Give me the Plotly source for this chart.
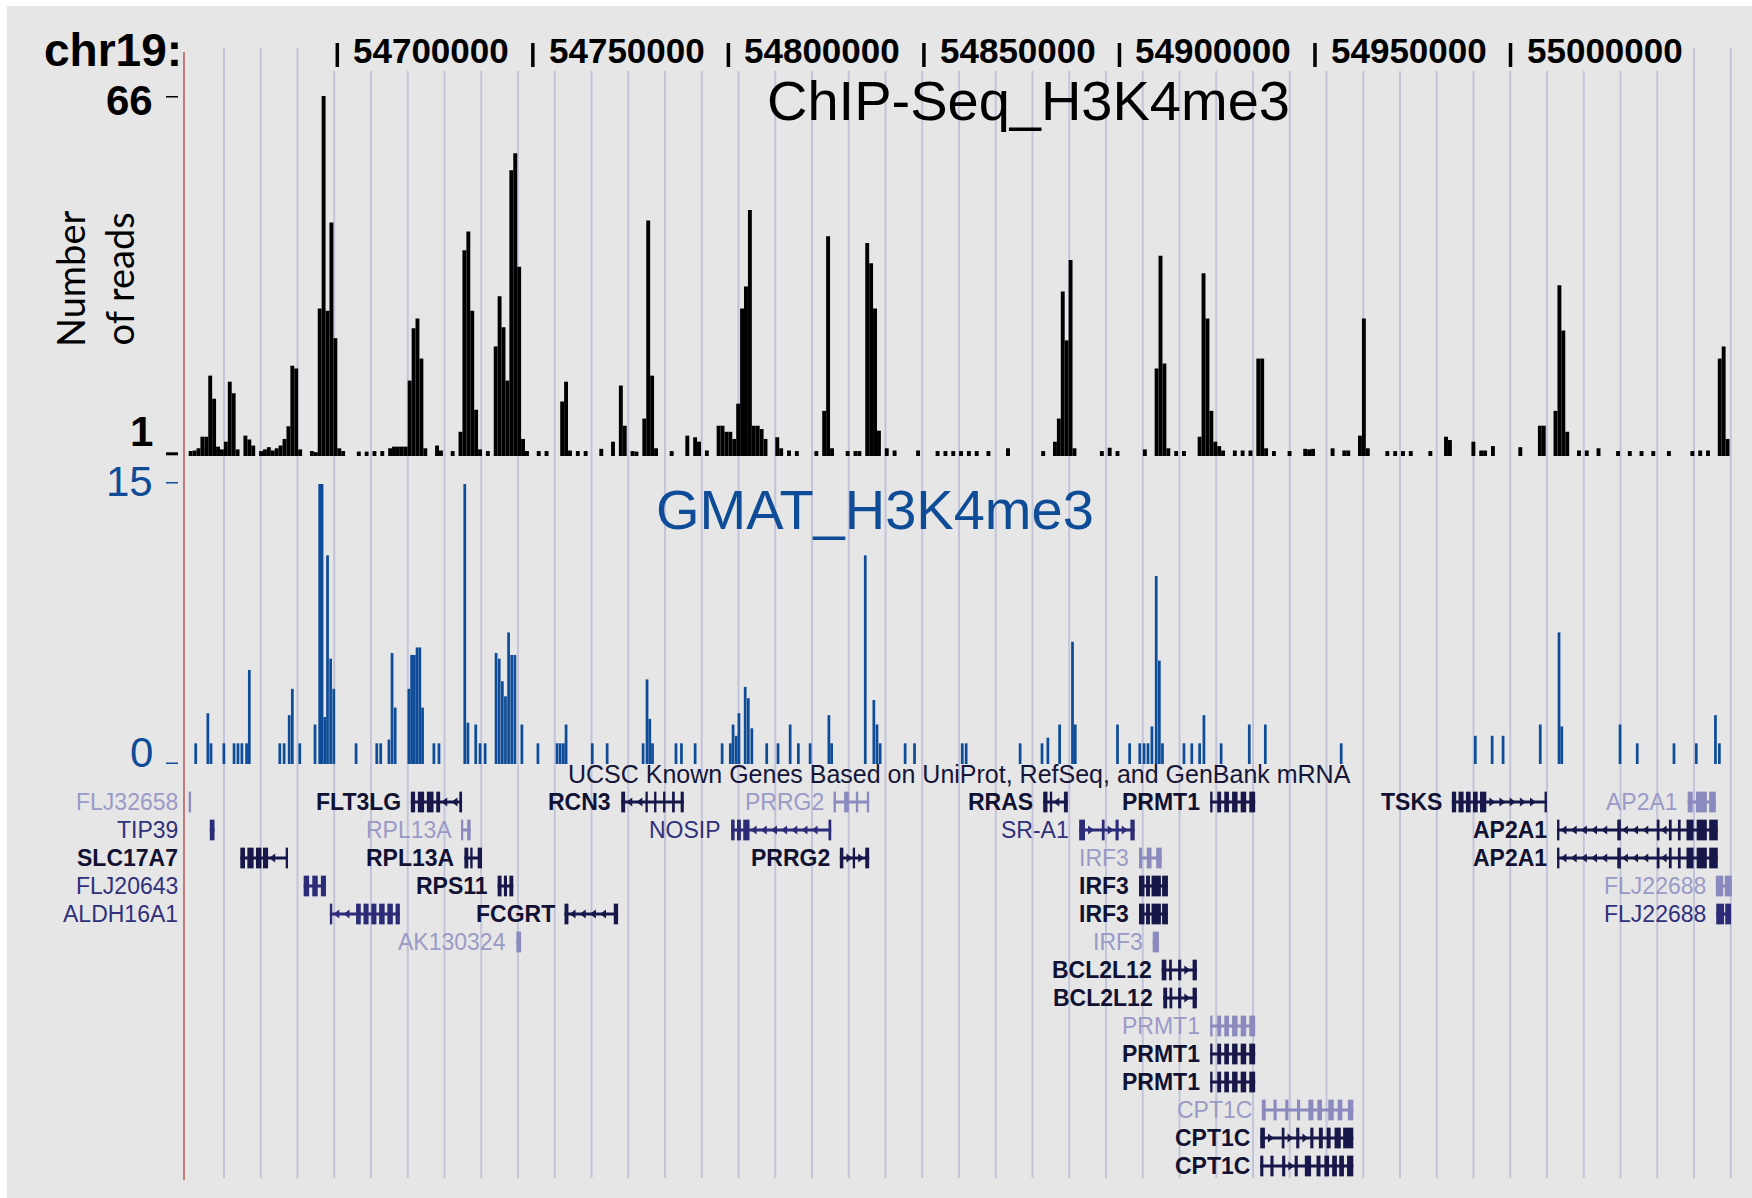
import plotly.graph_objects as go

W, H = 1752, 1198

# ---------------------------------------------------------------- data
# chr19 window, kb
view_start, view_end = 54660.8, 55057.4
ruler_kb = [54700, 54750, 54800, 54850, 54900, 54950, 55000]

# ChIP-Seq H3K4me3 read counts in 1 kb bins (bin start, kb)
chip_bin_kb = [
    54662, 54663, 54664, 54665, 54666, 54667, 54668, 54669, 54670, 54671,
    54672, 54673, 54674, 54676, 54677, 54678, 54680, 54681, 54682, 54683,
    54684, 54685, 54686, 54687, 54688, 54689, 54690, 54693, 54694, 54695,
    54696, 54697, 54698, 54699, 54700, 54701, 54705, 54707, 54709, 54711,
    54713, 54714, 54715, 54716, 54717, 54718, 54719, 54720, 54721, 54722,
    54725, 54726, 54729, 54731, 54732, 54733, 54734, 54735, 54736, 54738,
    54740, 54741, 54742, 54743, 54744, 54745, 54746, 54747, 54748, 54751,
    54753, 54757, 54758, 54759, 54761, 54763, 54767, 54770, 54772, 54773,
    54775, 54776, 54778, 54779, 54780, 54781, 54785, 54789, 54791, 54792,
    54794, 54797, 54798, 54799, 54800, 54801, 54802, 54803, 54804, 54805,
    54806, 54807, 54808, 54809, 54812, 54813, 54815, 54817, 54822, 54824,
    54825, 54826, 54830, 54832, 54833, 54835, 54836, 54837, 54838, 54840,
    54842, 54848, 54853, 54855, 54857, 54859, 54861, 54863, 54866, 54871,
    54880, 54883, 54884, 54885, 54886, 54887, 54888, 54895, 54897, 54899,
    54906, 54909, 54910, 54911, 54912, 54914, 54916, 54920, 54921, 54922,
    54923, 54924, 54925, 54926, 54929, 54931, 54933, 54935, 54936, 54937,
    54939, 54943, 54947, 54948, 54949, 54954, 54957, 54958, 54961, 54962,
    54963, 54968, 54970, 54972, 54974, 54979, 54983, 54984, 54990, 54992,
    54993, 54995, 55002, 55007, 55008, 55011, 55012, 55013, 55014, 55017,
    55019, 55022, 55027, 55030, 55033, 55036, 55040, 55046, 55048, 55050,
    55053, 55054, 55055,
]
chip_reads = [
    1.5, 1.6, 2.0, 4.1, 4.1, 15.2, 11.0, 2.3, 1.8, 3.2,
    14.1, 12.0, 1.8, 4.3, 3.6, 2.5, 1.5, 1.8, 2.2, 1.6,
    2.0, 2.5, 3.7, 6.0, 17.0, 16.5, 1.8, 1.5, 1.3, 27.4,
    66.0, 27.0, 43.0, 22.0, 2.0, 1.5, 1.4, 1.4, 1.5, 1.5,
    2.0, 2.3, 2.3, 2.3, 2.3, 14.3, 23.8, 25.6, 18.3, 2.0,
    2.5, 1.6, 1.5, 5.0, 38.0, 41.4, 27.0, 9.0, 1.8, 1.5,
    20.5, 29.6, 24.0, 14.3, 52.5, 55.6, 35.0, 3.7, 1.5, 1.5,
    1.5, 10.5, 14.1, 1.6, 1.5, 1.5, 1.9, 3.2, 13.4, 6.1,
    1.5, 1.4, 7.4, 43.4, 15.2, 2.0, 1.5, 4.3, 4.0, 3.2,
    1.6, 6.1, 6.1, 5.0, 5.0, 3.7, 10.1, 27.4, 31.4, 45.3,
    6.1, 6.1, 5.5, 3.7, 4.0, 2.0, 1.6, 1.5, 1.5, 8.8,
    40.5, 2.0, 1.5, 1.5, 1.5, 39.3, 35.6, 27.4, 5.2, 2.0,
    1.6, 1.6, 1.5, 1.5, 1.5, 1.5, 1.5, 1.5, 1.5, 2.0,
    1.5, 3.2, 7.4, 30.5, 21.6, 36.2, 2.0, 1.5, 2.1, 1.5,
    1.8, 16.5, 37.0, 17.4, 2.0, 1.5, 1.5, 4.1, 33.8, 25.6,
    8.8, 3.2, 2.4, 1.6, 1.6, 1.6, 1.6, 18.3, 18.3, 2.0,
    1.5, 1.5, 1.9, 1.8, 1.9, 2.0, 1.6, 1.6, 4.3, 25.6,
    2.0, 1.5, 1.5, 1.5, 1.5, 1.5, 4.1, 3.5, 3.2, 1.6,
    1.6, 2.4, 2.2, 6.1, 6.1, 8.8, 31.6, 23.4, 5.0, 1.6,
    1.6, 2.0, 1.5, 1.5, 1.5, 1.5, 1.5, 1.5, 1.6, 1.6,
    18.3, 20.5, 3.7,
]

# GMAT H3K4me3 scores (position kb, score)
gmat_kb = [
    54663.8, 54666.9, 54667.7, 54671.0, 54673.6, 54674.6, 54675.6, 54676.8, 54677.5, 54685.3,
    54686.4, 54687.7, 54688.5, 54690.4, 54694.3, 54695.5, 54696.1, 54696.8, 54697.5, 54698.3,
    54699.1, 54704.8, 54710.1, 54711.1, 54713.2, 54714.0, 54714.8, 54718.3, 54719.0, 54719.7,
    54720.4, 54721.1, 54721.8, 54724.7, 54726.0, 54732.6, 54733.4, 54735.4, 54736.5, 54737.8,
    54740.6, 54741.4, 54742.2, 54743.0, 54743.8, 54744.6, 54745.4, 54747.2, 54751.3, 54756.2,
    54757.0, 54757.8, 54758.5, 54765.2, 54769.0, 54778.2, 54779.2, 54779.9, 54780.6, 54786.6,
    54788.0, 54791.5, 54798.4, 54800.5, 54801.2, 54802.0, 54802.7, 54804.3, 54805.1, 54806.0,
    54809.8, 54812.7, 54815.8, 54817.9, 54820.9, 54825.7, 54826.4, 54835.0, 54837.2, 54838.0,
    54838.8, 54845.2, 54847.6, 54859.8, 54860.8, 54874.6, 54880.2, 54881.7, 54884.7, 54888.0,
    54888.7, 54899.5, 54902.6, 54905.2, 54906.3, 54907.3, 54908.3, 54909.4, 54910.2, 54911.0,
    54916.5, 54918.5, 54920.5, 54921.6, 54926.0, 54933.2, 54937.3, 54956.7, 54991.0, 54995.3,
    54998.1, 55007.6, 55012.4, 55013.1, 55028.0, 55032.4, 55041.8, 55047.5, 55052.4, 55053.4,
]
gmat_score = [
    1.1, 2.7, 1.1, 1.1, 1.1, 1.1, 1.1, 1.1, 5.0, 1.1,
    1.1, 2.6, 4.0, 1.1, 2.1, 14.9, 14.9, 2.5, 11.1, 5.6,
    4.0, 1.1, 1.1, 1.1, 1.3, 5.9, 3.0, 4.0, 5.8, 5.8,
    6.2, 6.2, 3.0, 1.1, 1.1, 14.9, 2.2, 2.1, 1.1, 1.1,
    5.9, 5.6, 4.4, 3.6, 7.0, 5.8, 5.8, 2.1, 1.1, 1.1,
    1.1, 1.1, 2.1, 1.1, 1.1, 1.1, 4.5, 2.4, 1.1, 1.1,
    1.1, 1.1, 1.1, 1.1, 2.1, 1.5, 2.7, 4.1, 3.5, 1.9,
    1.1, 1.1, 2.1, 1.1, 1.1, 2.6, 1.1, 11.1, 3.4, 2.1,
    1.1, 1.1, 1.1, 1.1, 1.1, 1.1, 1.1, 1.4, 2.1, 6.5,
    2.1, 2.1, 1.1, 1.1, 1.1, 1.1, 2.0, 10.0, 5.5, 1.1,
    1.1, 1.1, 1.1, 2.6, 1.1, 2.1, 2.1, 1.1, 1.5, 1.5,
    1.5, 2.1, 7.0, 2.0, 2.1, 1.1, 1.1, 1.1, 2.6, 1.1,
]

# UCSC Known Genes: name, display row, strand, shade, exons (kb)
gene_name = [
    "FLJ32658", "FLT3LG", "RCN3", "PRRG2", "RRAS", "PRMT1", "TSKS", "AP2A1",
    "TIP39", "RPL13A", "NOSIP", "SR-A1", "AP2A1",
    "SLC17A7", "RPL13A", "PRRG2", "IRF3", "AP2A1",
    "FLJ20643", "RPS11", "IRF3", "FLJ22688",
    "ALDH16A1", "FCGRT", "IRF3", "FLJ22688",
    "AK130324", "IRF3",
    "BCL2L12", "BCL2L12", "PRMT1", "PRMT1", "PRMT1",
    "CPT1C", "CPT1C", "CPT1C",
]
gene_row = [
    0, 0, 0, 0, 0, 0, 0, 0,
    1, 1, 1, 1, 1,
    2, 2, 2, 2, 2,
    3, 3, 3, 3,
    4, 4, 4, 4,
    5, 5,
    6, 7, 8, 9, 10,
    11, 12, 13,
]
gene_strand = [
    "+", "-", "-", "+", "-", "+", "+", "-",
    "+", "-", "-", "+", "-",
    "-", "-", "+", "-", "-",
    "+", "+", "-", "-",
    "-", "-", "-", "-",
    "+", "-",
    "+", "+", "+", "+", "+",
    "+", "+", "+",
]
gene_shade = [
    "light", "dark", "dark", "light", "dark", "dark", "dark", "light",
    "mid", "light", "mid", "mid", "dark",
    "dark", "dark", "dark", "light", "dark",
    "mid", "dark", "dark", "light",
    "mid", "dark", "dark", "mid",
    "light", "light",
    "dark", "dark", "light", "dark", "dark",
    "light", "dark", "dark",
]
ap2a1_exons = [[55011.9, 55012.5], [55027.3, 55028.2], [55037.4, 55038.1], [55040.5, 55041.2],
               [55042.8, 55043.5], [55045.0, 55046.8], [55047.6, 55050.2], [55050.8, 55053.0]]
irf3_exons = [[54905.0, 54906.4], [54906.8, 54907.8], [54908.2, 54910.6], [54910.9, 54912.4]]
prmt1_exons = [[54923.2, 54923.8], [54925.0, 54926.0], [54926.8, 54928.0], [54928.8, 54930.2],
               [54931.0, 54932.4], [54933.2, 54934.7]]
gene_exons = [
    [[54662.0, 54662.6]],
    [[54718.8, 54719.9], [54720.6, 54722.2], [54722.9, 54724.6], [54725.3, 54726.3], [54731.2, 54731.9]],
    [[54772.6, 54773.6], [54778.8, 54779.4], [54781.0, 54781.6], [54783.3, 54783.9], [54785.6, 54786.3],
     [54787.8, 54788.6]],
    [[54826.9, 54827.5], [54829.6, 54830.8], [54832.6, 54833.2], [54835.4, 54836.0]],
    [[54880.5, 54881.6], [54882.2, 54882.8], [54885.8, 54886.8]],
    prmt1_exons,
    [[54985.0, 54986.1], [54986.7, 54988.0], [54988.6, 54989.8], [54990.4, 54991.6], [54992.2, 54993.8],
     [55008.7, 55009.3]],
    [[55045.3, 55046.6], [55047.4, 55050.2], [55050.8, 55052.5]],
    [[54667.4, 54668.6]],
    [[54731.8, 54732.2], [54733.2, 54734.1]],
    [[54800.7, 54801.6], [54802.2, 54803.2], [54803.8, 54805.4], [54825.6, 54826.3]],
    [[54889.7, 54891.2], [54895.5, 54896.2], [54899.0, 54899.8], [54902.8, 54903.9]],
    ap2a1_exons,
    [[54675.2, 54676.4], [54677.0, 54678.6], [54679.2, 54680.6], [54681.0, 54682.3], [54686.8, 54687.4]],
    [[54732.5, 54733.5], [54734.0, 54734.6], [54735.9, 54737.0]],
    [[54828.5, 54829.4], [54831.8, 54832.4], [54835.0, 54836.0]],
    [[54905.0, 54905.8], [54907.0, 54908.2], [54909.4, 54910.8]],
    ap2a1_exons,
    [[54691.4, 54692.8], [54693.6, 54695.0], [54695.8, 54697.1]],
    [[54741.0, 54742.0], [54742.6, 54743.4], [54744.0, 54745.0]],
    irf3_exons,
    [[55052.5, 55054.4], [55054.8, 55056.6]],
    [[54698.1, 54698.7], [54704.8, 54706.0], [54706.7, 54708.0], [54708.7, 54710.0], [54710.7, 54712.1],
     [54712.8, 54714.2], [54714.9, 54716.0]],
    [[54758.1, 54759.1], [54770.7, 54771.8]],
    irf3_exons,
    [[55052.6, 55054.6], [55054.9, 55056.4]],
    [[54745.8, 54747.0]],
    [[54908.5, 54910.1]],
    [[54910.8, 54912.0], [54912.7, 54913.4], [54915.0, 54915.8], [54918.7, 54919.8]],
    [[54911.2, 54912.2], [54912.8, 54913.5], [54915.0, 54915.8], [54918.7, 54919.8]],
    prmt1_exons,
    prmt1_exons,
    prmt1_exons,
    [[54936.4, 54937.4], [54939.4, 54940.2], [54942.4, 54943.2], [54945.4, 54946.2], [54948.3, 54949.6],
     [54950.6, 54951.8], [54953.4, 54954.8], [54955.8, 54957.0], [54958.4, 54959.8]],
    [[54936.0, 54937.2], [54941.5, 54942.2], [54945.2, 54946.0], [54948.8, 54949.6], [54951.0, 54952.0],
     [54953.0, 54954.0], [54955.0, 54956.6], [54957.2, 54959.8]],
    [[54936.0, 54936.8], [54938.6, 54939.4], [54941.6, 54942.4], [54944.8, 54945.6], [54947.4, 54949.0],
     [54950.4, 54951.4], [54952.4, 54953.6], [54954.4, 54955.6], [54956.2, 54957.4], [54958.2, 54959.8]],
]

# ---------------------------------------------------------------- styling
FONT = "Liberation Sans, Arial, Helvetica, sans-serif"
BG = "#e6e6e6"
GUIDE = "#c3c3da"
BLUE = "#0e4c98"
label_color = {"dark": "#111133", "mid": "#30307c", "light": "#9a9ac6"}
label_weight = {"dark": "bold", "mid": "normal", "light": "normal"}
glyph_color = {"dark": "#17174a", "mid": "#2b2b78", "light": "#8a8abf"}

# page geometry (pixels)
DATA_L, DATA_R = 184, 1735
CHIP_TOP, CHIP_BOT = 96, 456
GMAT_TOP, GMAT_BOT = 482, 764
GENE_TOP, GENE_BOT = 760, 1190
ROW0_Y, ROW_H = 802, 28


def fx(px):
    return px / W


def fy(py):
    return 1 - py / H


fig = go.Figure()

# ChIP-Seq read-count histogram
fig.add_trace(go.Bar(
    x=[b + 0.5 for b in chip_bin_kb], y=chip_reads, width=1.0,
    marker=dict(color="black", line=dict(width=0)),
    xaxis="x", yaxis="y", hoverinfo="skip",
))

# GMAT score bars
fig.add_trace(go.Bar(
    x=gmat_kb, y=gmat_score, width=0.7,
    marker=dict(color=BLUE, line=dict(width=0)),
    xaxis="x", yaxis="y2", hoverinfo="skip",
))

# gene models: introns, strand chevrons, exons
for shade in ["light", "mid", "dark"]:
    lx, ly, ax_, ay_, asym = [], [], [], [], []
    for row, strand, sh, exons in zip(gene_row, gene_strand, gene_shade, gene_exons):
        if sh != shade:
            continue
        start, end = exons[0][0], exons[-1][1]
        if end - start > 1.0:
            lx += [start, end, None]
            ly += [row, row, None]
        for (s0, e0), (s1, e1) in zip(exons[:-1], exons[1:]):
            p = e0 + 1.3
            while p < s1 - 0.9:
                ax_.append(p)
                ay_.append(row)
                asym.append("triangle-left" if strand == "-" else "triangle-right")
                p += 2.6
    fig.add_trace(go.Scatter(
        x=lx, y=ly, mode="lines", line=dict(color=glyph_color[shade], width=3),
        xaxis="x", yaxis="y3", hoverinfo="skip",
    ))
    if ax_:
        fig.add_trace(go.Scatter(
            x=ax_, y=ay_, mode="markers",
            marker=dict(symbol=asym, size=8, color=glyph_color[shade], line=dict(width=0)),
            xaxis="x", yaxis="y3", hoverinfo="skip",
        ))

ex_x, ex_w, ex_base, ex_col = [], [], [], []
for row, sh, exons in zip(gene_row, gene_shade, gene_exons):
    for s, e in exons:
        ex_x.append((s + e) / 2)
        ex_w.append(e - s)
        ex_base.append(row - 0.37)
        ex_col.append(glyph_color[sh])
fig.add_trace(go.Bar(
    x=ex_x, y=[0.74] * len(ex_x), base=ex_base, width=ex_w,
    marker=dict(color=ex_col, line=dict(width=0)),
    xaxis="x", yaxis="y3", hoverinfo="skip",
))

# ---------------------------------------------------------------- shapes
shapes = [
    dict(type="rect", xref="paper", yref="paper", x0=fx(7), x1=1, y0=0, y1=fy(6),
         fillcolor=BG, line=dict(width=0), layer="below"),
]
# browser guidelines every 36.75 px
for k in range(42):
    gx = fx(224 + 36.75 * k)
    shapes.append(dict(type="line", xref="paper", yref="paper", x0=gx, x1=gx,
                       y0=fy(48), y1=fy(1178), line=dict(color=GUIDE, width=2), layer="below"))
# ruler label band hides the guidelines
shapes.append(dict(type="rect", xref="paper", yref="paper", x0=fx(332), x1=fx(1688),
                   y0=fy(71), y1=fy(40), fillcolor=BG, line=dict(width=0), layer="below"))
# left border of the data area
shapes.append(dict(type="line", xref="paper", yref="paper", x0=fx(DATA_L), x1=fx(DATA_L),
                   y0=fy(52), y1=fy(1180), line=dict(color="#c07a7a", width=2), layer="below"))
# ruler ticks
for kb in ruler_kb:
    shapes.append(dict(type="line", xref="x", yref="paper", x0=kb, x1=kb,
                       y0=fy(67), y1=fy(43), line=dict(color="black", width=3.5)))
# vertical-scale dashes
for yref, val, col in [("y", 66, "black"), ("y", 1, "black"), ("y2", 15, BLUE), ("y2", 0, BLUE)]:
    shapes.append(dict(type="line", xref="paper", yref=yref, x0=fx(166), x1=fx(178),
                       y0=val, y1=val, line=dict(color=col, width=3)))

# ---------------------------------------------------------------- annotations
ann = []
ann.append(dict(text="<b>chr19:</b>", xref="paper", yref="paper", x=fx(184), y=fy(50),
                xanchor="right", yanchor="middle", showarrow=False,
                font=dict(family=FONT, size=46, color="black")))
for kb in ruler_kb:
    ann.append(dict(text="<b>%d</b>" % (kb * 1000), xref="x", yref="paper", x=kb, y=fy(50),
                    xanchor="left", yanchor="middle", xshift=14, showarrow=False,
                    font=dict(family=FONT, size=35, color="black")))
for txt, py, col in [("<b>66</b>", 100, "black"), ("<b>1</b>", 431, "black"),
                     ("15", 482, BLUE), ("0", 752, BLUE)]:
    ann.append(dict(text=txt, xref="paper", yref="paper", x=fx(155), y=fy(py),
                    xanchor="right", yanchor="middle", showarrow=False,
                    font=dict(family=FONT, size=42, color=col)))
ann.append(dict(text="ChIP-Seq_H3K4me3", xref="paper", yref="paper", x=fx(1028), y=fy(100),
                xanchor="center", yanchor="middle", showarrow=False,
                font=dict(family=FONT, size=56, color="black")))
ann.append(dict(text="GMAT_H3K4me3", xref="paper", yref="paper", x=fx(875), y=fy(509),
                xanchor="center", yanchor="middle", showarrow=False,
                font=dict(family=FONT, size=56, color=BLUE)))
ann.append(dict(text="Number<br>of reads", xref="paper", yref="paper", x=fx(95), y=fy(279),
                xanchor="center", yanchor="middle", textangle=-90, showarrow=False,
                font=dict(family="Lato, Open Sans, sans-serif", size=38, color="black")))
ann.append(dict(text="UCSC Known Genes Based on UniProt, RefSeq, and GenBank mRNA",
                xref="paper", yref="y3", x=fx((DATA_L + DATA_R) / 2), y=-1.0,
                xanchor="center", yanchor="middle", showarrow=False,
                font=dict(family=FONT, size=25, color="#15153a")))
for name, row, sh, exons in zip(gene_name, gene_row, gene_shade, gene_exons):
    start = exons[0][0]
    font = dict(family=FONT, size=23, color=label_color[sh], weight=label_weight[sh])
    if start - view_start < 40:
        ann.append(dict(text=name, xref="paper", yref="y3", x=fx(DATA_L - 4), y=row,
                        xanchor="right", yanchor="middle", showarrow=False, font=font))
    else:
        ann.append(dict(text=name, xref="x", yref="y3", x=start, y=row, xshift=-8,
                        xanchor="right", yanchor="middle", showarrow=False, font=font))

hidden = dict(visible=False, showgrid=False, zeroline=False, fixedrange=True)
fig.update_layout(
    width=W, height=H, autosize=False,
    margin=dict(l=0, r=0, t=0, b=0),
    paper_bgcolor="white", plot_bgcolor="rgba(0,0,0,0)",
    showlegend=False, barmode="overlay",
    xaxis=dict(domain=[fx(DATA_L), fx(DATA_R)], range=[view_start, view_end], **hidden),
    yaxis=dict(domain=[fy(CHIP_BOT), fy(CHIP_TOP)], range=[0.6, 66], anchor="x", **hidden),
    yaxis2=dict(domain=[fy(GMAT_BOT), fy(GMAT_TOP)], range=[0, 15], anchor="x", **hidden),
    yaxis3=dict(domain=[fy(GENE_BOT), fy(GENE_TOP)],
                range=[(GENE_BOT - ROW0_Y) / ROW_H, (GENE_TOP - ROW0_Y) / ROW_H],
                anchor="x", **hidden),
    shapes=shapes, annotations=ann,
)

fig.write_html("out.html", config={"displayModeBar": False})
